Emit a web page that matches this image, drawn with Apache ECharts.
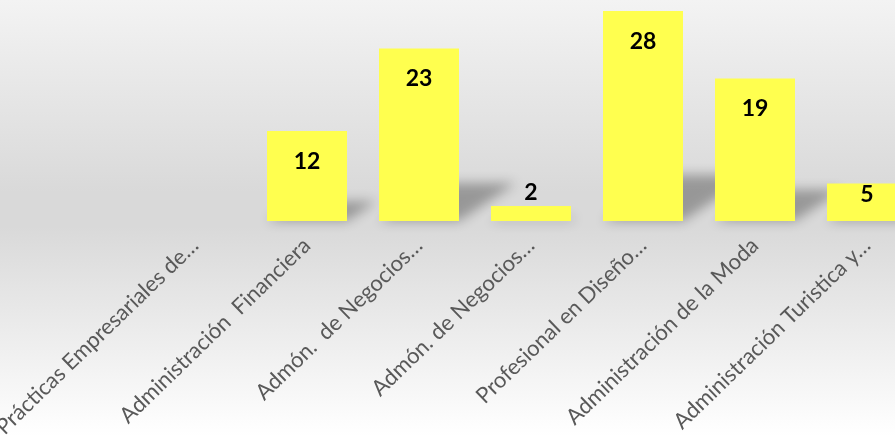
<!DOCTYPE html>
<html>
<head>
<meta charset="utf-8">
<script src="https://cdn.jsdelivr.net/npm/echarts@6/dist/echarts.min.js"></script>
<style>
  html, body { margin: 0; padding: 0; }
  #chart {
    width: 895px;
    height: 436px;
    background: linear-gradient(to bottom, #f3f3f3 0%, #d9d9d9 44%, #d9d9d9 52%, #ffffff 100%);
  }
</style>
</head>
<body>
<div id="chart"></div>
<script>
const categories = [
  'Prácticas Empresariales de…',
  'Administración  Financiera',
  'Admón.  de Negocios…',
  'Admón. de Negocios…',
  'Profesional en Diseño…',
  'Administración de la Moda',
  'Administración Turistica y…'
]
const values = [0, 12, 23, 2, 28, 19, 5]

const chart = echarts.init(document.getElementById('chart'))

// etiqueta dentro de la barra salvo que la barra sea muy baja
const barData = values.map(v => {
  if (v === 0) return { value: v, label: { show: false } }
  if (v < 4) return { value: v, label: { position: 'top', distance: 2 } }
  if (v < 8) return { value: v, label: { position: 'insideTop', distance: 0 } }
  return v
})

const SHIFT = 3000

chart.setOption({
  backgroundColor: 'transparent',
  animation: false,
  grid: { left: 139, top: 11, width: 784, height: 210, outerBoundsMode: 'none', containLabel: false },
  xAxis: {
    type: 'category',
    data: categories,
    axisLine: { show: false },
    axisTick: { show: false },
    axisLabel: {
      interval: 0,
      rotate: 44,
      margin: 21,
      color: '#595959',
      fontFamily: 'Lato',
      fontSize: 22
    }
  },
  yAxis: {
    type: 'value',
    min: 0,
    max: 28,
    show: false,
    splitLine: { show: false }
  },
  series: [
    {
      // sombra en perspectiva detrás de cada barra
      type: 'custom',
      z: 1,
      silent: true,
      clip: false,
      data: values.map((v, i) => [i, v]),
      renderItem: function (params, api) {
        const base = api.coord([api.value(0), 0])
        const top = api.coord([api.value(0), api.value(1)])
        const h = base[1] - top[1]
        if (h <= 0) return null
        const bw = 80
        const x0 = base[0] - bw / 2 - SHIFT
        const x1 = base[0] + bw / 2 - SHIFT
        const y0 = base[1]
        const dx = h * 0.33
        const dy = h * 0.22
        return {
          type: 'polygon',
          shape: {
            points: [[x0, y0], [x1, y0], [x1 + dx, y0 - dy], [x0 + dx, y0 - dy]]
          },
          style: {
            fill: '#000',
            shadowBlur: 12,
            shadowColor: 'rgba(0, 0, 0, 0.3)',
            shadowOffsetX: SHIFT,
            shadowOffsetY: 0
          }
        }
      }
    },
    {
      type: 'bar',
      z: 2,
      data: barData,
      barWidth: 80,
      itemStyle: { color: '#ffff4f' },
      label: {
        show: true,
        position: 'insideTop',
        distance: 19,
        color: '#000',
        fontFamily: 'Lato',
        fontWeight: 'bold',
        fontSize: 23
      }
    }
  ]
})
</script>
</body>
</html>
